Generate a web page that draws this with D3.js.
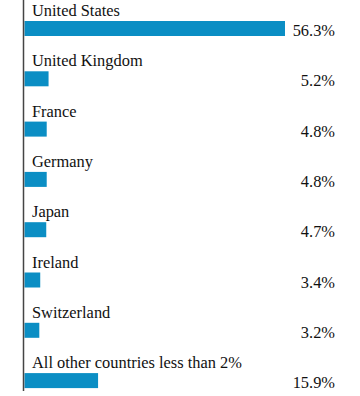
<!DOCTYPE html>
<html><head><meta charset="utf-8">
<script src="https://cdn.jsdelivr.net/npm/d3@7"></script>
<style>html,body{margin:0;padding:0;background:#fff;}svg{display:block;}</style>
</head><body>
<svg id="chart" width="360" height="396"></svg>
<script>
const categories = ["United States","United Kingdom","France","Germany","Japan","Ireland","Switzerland","All other countries less than 2%"];
const values = [56.3, 5.2, 4.8, 4.8, 4.7, 3.4, 3.2, 15.9];
const valueLabels = ["56.3%","5.2%","4.8%","4.8%","4.7%","3.4%","3.2%","15.9%"];

const svg = d3.select("#chart");
const font = "'Liberation Serif','Times New Roman',serif";
const x = d3.scaleLinear().domain([0, 56.3]).range([24.5, 285]);
const y = d3.scaleBand().domain(categories).range([0, 8 * 50.3]);

const rows = svg.selectAll("g.row").data(categories).join("g").attr("class","row")
  .attr("transform", d => `translate(0,${y(d)})`);

rows.append("rect")
  .attr("x", x(0))
  .attr("y", 21)
  .attr("height", 15)
  .attr("width", (d,i) => x(values[i]) - x(0))
  .attr("fill", "#0b8ec4");

rows.append("text")
  .attr("x", 32).attr("y", 16)
  .attr("font-family", font).attr("font-size", "16.4px").attr("fill", "#111")
  .text(d => d);

rows.append("text")
  .attr("x", 335).attr("y", 36)
  .attr("text-anchor", "end")
  .attr("font-family", font).attr("font-size", "16.4px").attr("fill", "#111")
  .text((d,i) => valueLabels[i]);

svg.append("line")
  .attr("x1", 23.5).attr("x2", 23.5).attr("y1", 0).attr("y2", 391)
  .attr("stroke", "#444").attr("stroke-width", 1.5);
</script>
</body></html>
